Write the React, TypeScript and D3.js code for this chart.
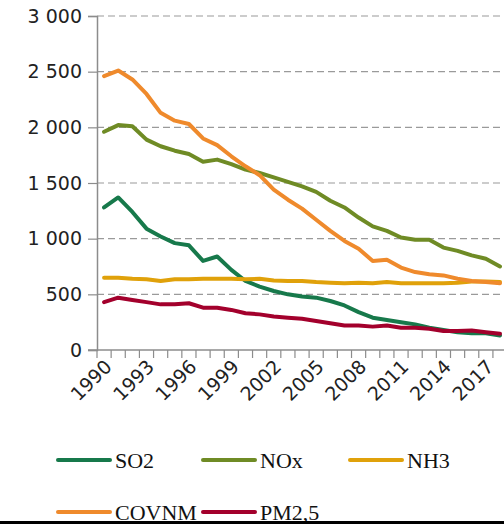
import React, { useEffect, useRef } from 'react';
import * as d3 from 'd3';

const years = d3.range(1990, 2019);
const yTicks = [0, 500, 1000, 1500, 2000, 2500, 3000];

const so2 = [1280, 1370, 1240, 1090, 1020, 960, 940, 800, 840, 720, 620, 570, 530, 500, 480, 470, 440, 400, 340, 290, 270, 250, 230, 200, 180, 160, 150, 150, 130];
const nox = [1960, 2020, 2010, 1890, 1830, 1790, 1760, 1690, 1710, 1670, 1620, 1590, 1550, 1510, 1470, 1420, 1340, 1280, 1190, 1110, 1070, 1010, 990, 990, 920, 890, 850, 820, 750];
const nh3 = [650, 650, 640, 635, 620, 635, 635, 640, 640, 640, 635, 640, 625, 620, 620, 610, 605, 600, 605, 600, 610, 600, 600, 600, 600, 605, 615, 615, 610];
const covnm = [2460, 2510, 2430, 2300, 2130, 2060, 2030, 1900, 1840, 1740, 1650, 1570, 1440, 1350, 1270, 1170, 1070, 980, 910, 800, 810, 740, 700, 680, 670, 640, 620, 610, 600];
const pm25 = [430, 470, 450, 430, 410, 410, 420, 380, 380, 360, 330, 320, 300, 290, 280, 260, 240, 220, 220, 210, 220, 200, 200, 190, 170, 170, 175, 160, 145];

const seriesNames = ['SO2', 'NOx', 'NH3', 'COVNM', 'PM2,5'];
const seriesValues = [so2, nox, nh3, covnm, pm25];
const colors = ['#17794b', '#6f8b25', '#e0a10a', '#ef8a2c', '#a3002c'];

const App = () => {
    const svgRef = useRef(null);

    useEffect(() => {
        const svg = d3.select(svgRef.current);
        svg.selectAll('*').remove();

        const left = 97;
        const top = 16;
        const bottom = 350;
        const step = 14.14;
        const right = left + step * years.length;

        const x = d3.scaleBand<number>()
            .domain(years)
            .range([left, right]);
        const y = d3.scaleLinear()
            .domain([0, 3000])
            .range([bottom, top]);

        const fmt = (v: number) => d3.format(',')(v).replace(',', ' ');

        // grid
        svg.append('g')
            .selectAll('line')
            .data(yTicks.filter(d => d > 0))
            .enter()
            .append('line')
            .attr('x1', left)
            .attr('x2', 504)
            .attr('y1', d => y(d))
            .attr('y2', d => y(d))
            .attr('stroke', '#9a9a9a')
            .attr('stroke-width', 1.2)
            .attr('stroke-dasharray', '7,4');

        // y axis
        const yAxis = svg.append('g')
            .attr('transform', `translate(${left},0)`)
            .call(d3.axisLeft(y).tickValues(yTicks).tickSize(9).tickFormat(d => fmt(+d)));
        yAxis.select('.domain').attr('stroke', '#8c8c8c').attr('stroke-width', 1.5);
        yAxis.selectAll('.tick line').attr('stroke', '#8c8c8c').attr('stroke-width', 1.2);
        yAxis.selectAll('.tick text')
            .attr('font-family', 'DejaVu Sans')
            .attr('font-size', 19)
            .attr('fill', '#222')
            .attr('x', -15);

        // x axis
        const xg = svg.append('g');
        xg.append('line')
            .attr('x1', left - 9)
            .attr('x2', 504)
            .attr('y1', bottom)
            .attr('y2', bottom)
            .attr('stroke', '#8c8c8c')
            .attr('stroke-width', 1.5);
        xg.selectAll('.xt')
            .data(d3.range(years.length + 1))
            .enter()
            .append('line')
            .attr('x1', i => left + i * x.bandwidth())
            .attr('x2', i => left + i * x.bandwidth())
            .attr('y1', bottom)
            .attr('y2', bottom + 8)
            .attr('stroke', '#8c8c8c')
            .attr('stroke-width', 1.2);
        xg.selectAll('.xl')
            .data(years.filter(d => (d - 1990) % 3 === 0))
            .enter()
            .append('text')
            .attr('transform', d => `translate(${x(d)! + x.bandwidth() / 2 + 5},${bottom + 14}) rotate(-45)`)
            .attr('text-anchor', 'end')
            .attr('dominant-baseline', 'middle')
            .attr('font-family', 'DejaVu Sans')
            .attr('font-size', 19)
            .attr('fill', '#222')
            .text(d => d);

        // lines
        const line = d3.line<number>()
            .x((_, i) => x(years[i])! + x.bandwidth() / 2)
            .y(d => y(d));
        svg.append('g')
            .selectAll('path')
            .data(seriesValues)
            .enter()
            .append('path')
            .attr('d', d => line(d))
            .attr('fill', 'none')
            .attr('stroke', (_, i) => colors[i])
            .attr('stroke-width', 4)
            .attr('stroke-linejoin', 'round')
            .attr('stroke-linecap', 'round');

        // legend
        const legendPos = [[58, 460], [203, 460], [350, 460], [58, 512], [203, 512]];
        const lg = svg.append('g')
            .selectAll('g')
            .data(seriesNames)
            .enter()
            .append('g')
            .attr('transform', (_, i) => `translate(${legendPos[i][0]},${legendPos[i][1]})`);
        lg.append('line')
            .attr('x1', 0)
            .attr('x2', 52)
            .attr('stroke', (_, i) => colors[i])
            .attr('stroke-width', 4)
            .attr('stroke-linecap', 'round');
        lg.append('text')
            .attr('x', 57)
            .attr('y', 8)
            .attr('font-family', 'Liberation Serif')
            .attr('font-size', 22)
            .attr('fill', '#111')
            .text(d => d);

        svg.append('rect')
            .attr('x', 0)
            .attr('y', 521)
            .attr('width', 504)
            .attr('height', 3)
            .attr('fill', '#000');
    }, []);

    return (
        <div style={{ position: 'absolute', left: 0, top: 0 }}>
            <svg ref={svgRef} width={504} height={524} style={{ display: 'block', background: '#fff' }}>
            </svg>
        </div>
    );
};

export default App;
